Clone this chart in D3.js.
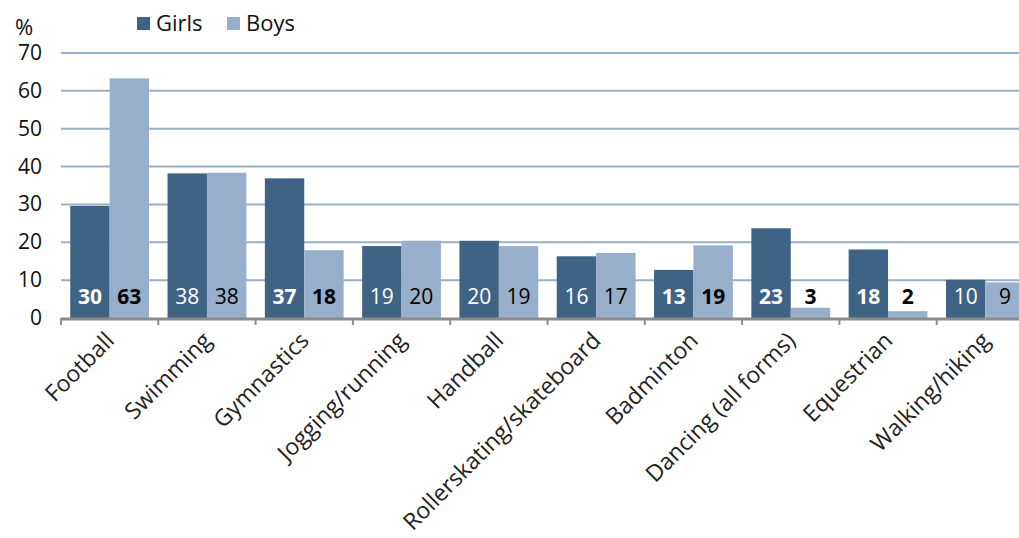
<!DOCTYPE html>
<meta charset="utf-8">
<style>
	body { margin: 0; background: #fff; }
	text { font-family: "Open Sans", Lato, sans-serif; }
	.grid line { stroke: #98afcb; stroke-width: 2; }
	.ytick { font-size: 21px; fill: #111; }
	.xlab { font-size: 23px; fill: #222; }
	.val { font-size: 21px; }
</style>
<body>
<script src="https://cdn.jsdelivr.net/npm/d3@7"></script>
<script>
var categories = ["Football", "Swimming", "Gymnastics", "Jogging/running", "Handball",
  "Rollerskating/skateboard", "Badminton", "Dancing (all forms)", "Equestrian", "Walking/hiking"];
var girls = [29.6, 38.2, 36.9, 19.0, 20.4, 16.3, 12.7, 23.7, 18.1, 10.1];
var boys = [63.3, 38.4, 17.9, 20.4, 19.0, 17.2, 19.2, 2.7, 1.8, 9.4];
var girlsLabels = ["30", "38", "37", "19", "20", "16", "13", "23", "18", "10"];
var boysLabels = ["63", "38", "18", "20", "19", "17", "19", "3", "2", "9"];
var boldLabels = [true, false, true, false, false, false, true, true, true, false];
var yTicks = [0, 10, 20, 30, 40, 50, 60, 70];
var seriesNames = ["Girls", "Boys"];
var colors = ["#3f6384", "#98afcb"];

var width = 1019, height = 538;
var left = 61, bandW = 97.3, y0 = 318, y70 = 53;

var svg = d3.select("body").append("svg")
    .attr("width", width).attr("height", height);

var x = d3.scaleBand().domain(categories)
    .range([left, left + bandW * categories.length])
    .paddingInner(0.19).paddingOuter(0.095);
var xs = d3.scaleBand().domain([0, 1]).range([0, x.bandwidth()]);
var y = d3.scaleLinear().domain([0, 70]).range([y0, y70]);

// gridlines
svg.append("g").attr("class", "grid")
  .selectAll("line").data(yTicks.slice(1)).enter().append("line")
    .attr("x1", left).attr("x2", width)
    .attr("y1", function(d) { return y(d); }).attr("y2", function(d) { return y(d); });

svg.append("g").selectAll("text").data(yTicks).enter().append("text")
    .attr("class", "ytick")
    .attr("x", 42).attr("y", function(d) { return y(d) + 7; })
    .attr("text-anchor", "end")
    .text(function(d) { return d; });

svg.append("text").attr("class", "ytick").attr("x", 15).attr("y", 35)
    .style("font-size", "22px").text("%");

// bars
var series = [girls, boys];
var groups = svg.append("g").selectAll("g").data(categories).enter().append("g")
    .attr("transform", function(d) { return "translate(" + x(d) + ",0)"; });

groups.each(function(c, i) {
  var g = d3.select(this);
  [0, 1].forEach(function(s) {
    g.append("rect")
      .attr("x", xs(s)).attr("width", xs.bandwidth())
      .attr("y", y(series[s][i])).attr("height", y0 - y(series[s][i]))
      .attr("fill", colors[s]);
    g.append("text").attr("class", "val")
      .attr("x", xs(s) + xs.bandwidth() / 2).attr("y", 304)
      .attr("text-anchor", "middle")
      .attr("fill", s === 0 ? "#fff" : "#000")
      .style("font-weight", boldLabels[i] ? "bold" : "normal")
      .text(s === 0 ? girlsLabels[i] : boysLabels[i]);
  });
});

// x axis
svg.append("line").attr("x1", left).attr("x2", width).attr("y1", y0 + 1).attr("y2", y0 + 1)
    .attr("stroke", "#8c8c8c").attr("stroke-width", 3);
svg.append("g").selectAll("line").data(d3.range(categories.length + 1)).enter().append("line")
    .attr("x1", function(d) { return left + d * bandW; })
    .attr("x2", function(d) { return left + d * bandW; })
    .attr("y1", y0).attr("y2", y0 + 7)
    .attr("stroke", "#8c8c8c").attr("stroke-width", 2);

svg.append("g").selectAll("text").data(categories).enter().append("text")
    .attr("class", "xlab")
    .attr("text-anchor", "end")
    .attr("transform", function(d) {
      return "translate(" + (x(d) + x.bandwidth() / 2 + 6) + "," + (y0 + 24) + ") rotate(-45)";
    })
    .text(function(d) { return d; });

// legend
var leg = svg.append("g").selectAll("g").data(seriesNames).enter().append("g")
    .attr("transform", function(d, i) { return "translate(" + (137 + i * 90) + ",17)"; });
leg.append("rect").attr("width", 13).attr("height", 13)
    .attr("fill", function(d, i) { return colors[i]; });
leg.append("text").attr("x", 19).attr("y", 14)
    .style("font-size", "22px").attr("fill", "#111")
    .text(function(d) { return d; });
</script>
</body>
